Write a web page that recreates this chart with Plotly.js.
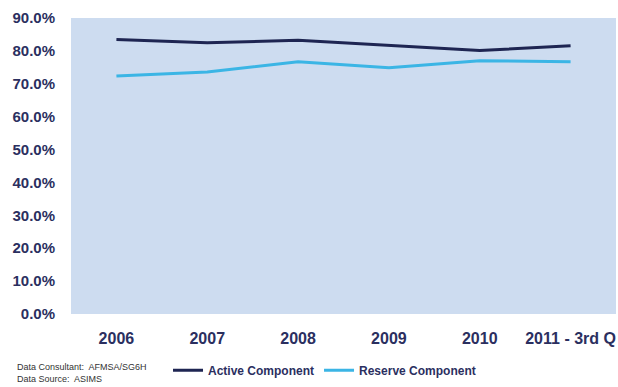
<!DOCTYPE html>
<html>
<head>
<meta charset="utf-8">
<script src="https://cdn.plot.ly/plotly-3.0.1.min.js"></script>
<style>
html,body{margin:0;padding:0;background:#ffffff;}
#chart{width:618px;height:387px;}
</style>
</head>
<body>
<div id="chart"></div>
<script>
const categories = ["2006", "2007", "2008", "2009", "2010", "2011 - 3rd Q"];
const activeValues = [83.5, 82.5, 83.2, 81.6, 80.1, 81.6];
const reserveValues = [72.4, 73.6, 76.7, 74.9, 77.0, 76.7];
const yTickVals = [0, 10, 20, 30, 40, 50, 60, 70, 80, 90];
const yTickText = ["0.0%", "10.0%", "20.0%", "30.0%", "40.0%", "50.0%", "60.0%", "70.0%", "80.0%", "90.0%"];
const seriesNames = ["Active Component", "Reserve Component"];

const navy = "#2b2f5f";
const fontFam = "'Liberation Sans', Arial, sans-serif";

const traces = [
  {
    x: categories, y: activeValues, name: seriesNames[0], type: "scatter", mode: "lines",
    line: {color: "#1e2552", width: 3}
  },
  {
    x: categories, y: reserveValues, name: seriesNames[1], type: "scatter", mode: "lines",
    line: {color: "#3bb5e5", width: 3}
  }
];

const layout = {
  width: 618, height: 387,
  margin: {l: 71, r: 2, t: 18, b: 66},
  paper_bgcolor: "#ffffff",
  plot_bgcolor: "#cddcf0",
  showlegend: true,
  legend: {
    orientation: "h", x: 0.178, xanchor: "left", y: -0.19, yanchor: "middle",
    font: {family: fontFam, size: 12, color: navy, weight: "bold"},
    itemwidth: 30, tracegroupgap: 0, bgcolor: "rgba(0,0,0,0)"
  },
  xaxis: {
    type: "category", range: [-0.5, 5.5],
    showgrid: false, zeroline: false, showline: false, ticks: "",
    tickfont: {family: fontFam, size: 16, color: navy, weight: "bold"},
    ticklabelstandoff: 13, fixedrange: true
  },
  yaxis: {
    range: [0, 90], tickvals: yTickVals, ticktext: yTickText,
    showgrid: false, zeroline: false, showline: false, ticks: "",
    tickfont: {family: fontFam, size: 15, color: navy, weight: "bold"},
    ticklabelstandoff: 15, fixedrange: true
  },
  annotations: [
    {
      xref: "paper", yref: "paper", x: -0.102, y: -0.155, xanchor: "left", yanchor: "top",
      align: "left", showarrow: false,
      text: "Data Consultant:  AFMSA/SG6H<br>Data Source:  ASIMS",
      font: {family: fontFam, size: 9, color: "#333333", weight: "normal"}
    }
  ]
};

Plotly.newPlot("chart", traces, layout, {displayModeBar: false, staticPlot: true});
</script>
</body>
</html>
